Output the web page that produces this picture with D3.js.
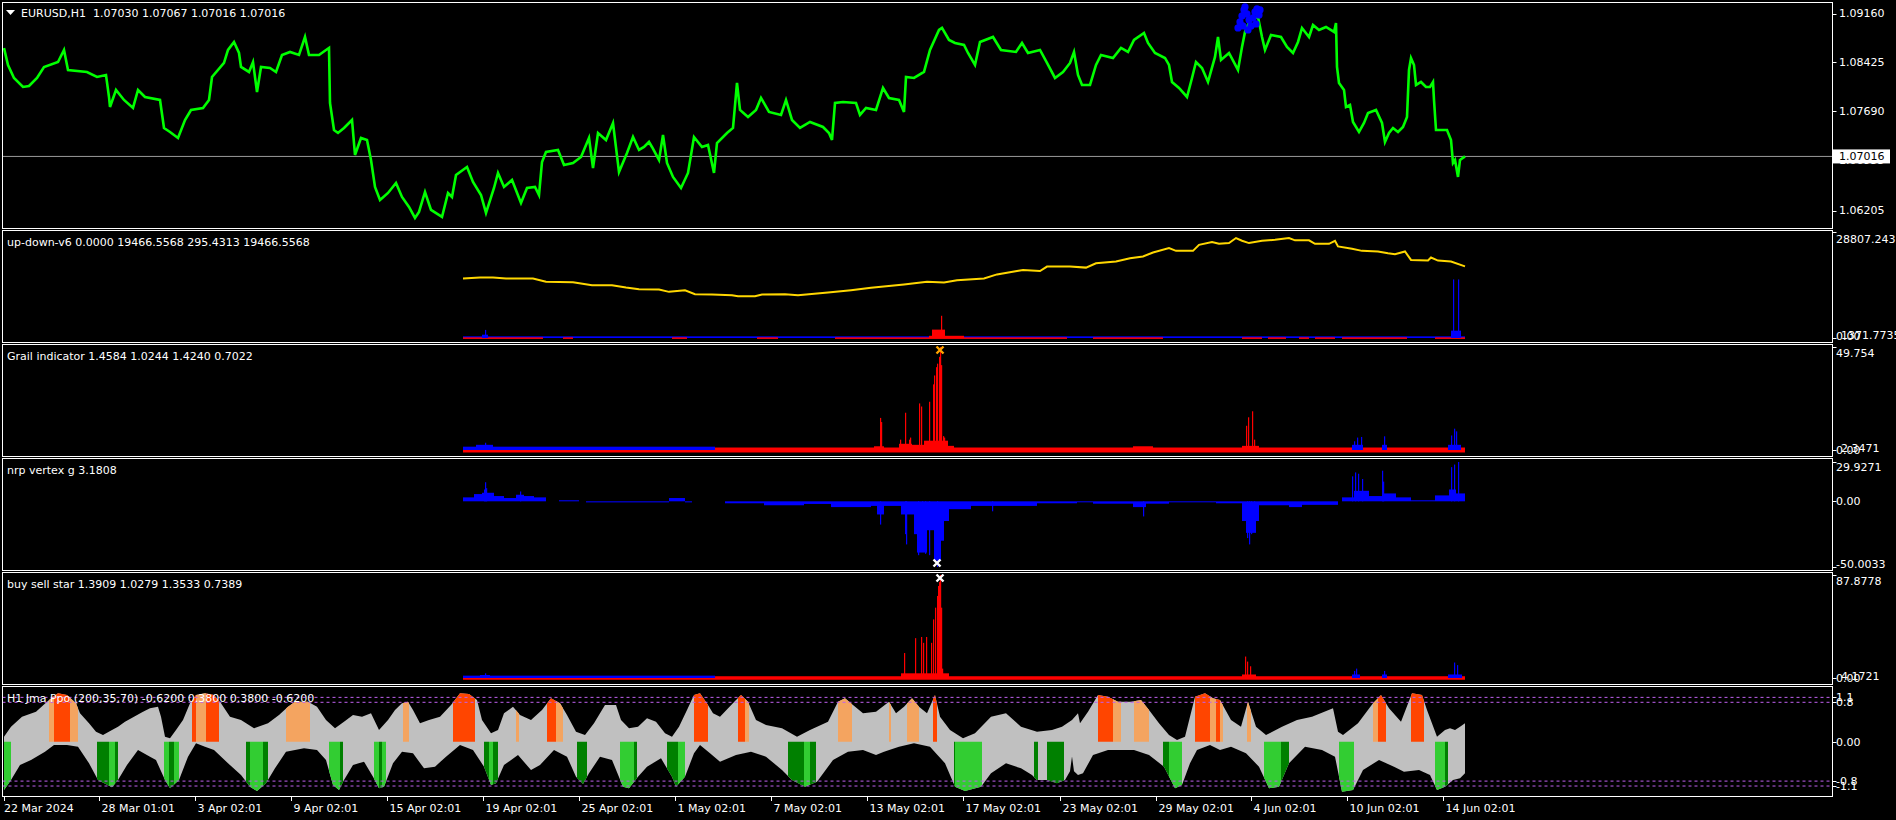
<!DOCTYPE html>
<html><head><meta charset="utf-8">
<script src="https://cdn.jsdelivr.net/npm/d3@7"></script>
<style>
body{margin:0;background:#000;overflow:hidden}
svg{display:block}
text{font-family:"DejaVu Sans",sans-serif;font-size:11px;fill:#fff;white-space:pre}
</style></head><body>
<svg id="c" width="1896" height="820"></svg>
<script>
// ---------------- DATA ----------------
const symbolTitle = "EURUSD,H1  1.07030 1.07067 1.07016 1.07016";
const priceTicks = [1.09160, 1.08425, 1.07690, 1.06955, 1.06205];
const lastPrice = 1.07016;
const timeTickBars = [0,95,191,287,383,479,575,671,767,863,959,1056,1152,1247,1343,1439];
const timeTickLabels = ["22 Mar 2024","28 Mar 01:01","3 Apr 02:01","9 Apr 02:01","15 Apr 02:01","19 Apr 02:01","25 Apr 02:01","1 May 02:01","7 May 02:01","13 May 02:01","17 May 02:01","23 May 02:01","29 May 02:01","4 Jun 02:01","10 Jun 02:01","14 Jun 02:01"];

// close prices [bar, price]
const priceClose = [[0,1.08643],[4,1.08388],[10,1.08193],[19,1.08058],[25,1.08073],[33,1.08193],[40,1.08358],[54,1.08433],[60,1.08613],[64,1.08313],[83,1.08283],[93,1.08208],[102,1.08238],[105,1.07908],[106,1.07758],[112,1.08013],[120,1.07863],[129,1.07743],[134,1.08013],[141,1.07908],[156,1.07863],[160,1.07443],[166,1.07383],[174,1.07293],[181,1.07563],[187,1.07713],[199,1.07743],[205,1.07863],[208,1.08208],[220,1.08418],[224,1.08613],[230,1.08733],[235,1.08568],[237,1.08358],[245,1.08283],[249,1.08433],[253,1.07983],[257,1.08358],[266,1.08343],[272,1.08283],[278,1.08538],[286,1.08583],[295,1.08538],[301,1.08808],[305,1.08538],[315,1.08538],[322,1.08613],[325,1.08643],[326,1.07818],[330,1.07413],[334,1.07368],[340,1.07443],[348,1.07563],[351,1.07038],[357,1.07293],[363,1.07263],[367,1.06963],[371,1.06558],[376,1.06363],[384,1.06468],[392,1.06618],[398,1.06408],[405,1.06258],[411,1.06093],[415,1.06183],[421,1.06483],[427,1.06213],[438,1.06108],[444,1.06468],[448,1.06408],[452,1.06738],[463,1.06858],[469,1.06633],[477,1.06438],[482,1.06168],[490,1.06543],[494,1.06768],[500,1.06558],[508,1.06663],[517,1.06318],[523,1.06543],[531,1.06558],[535,1.06438],[538,1.06933],[542,1.07083],[554,1.07113],[560,1.06888],[569,1.06918],[577,1.07008],[585,1.07293],[589,1.06843],[594,1.07368],[602,1.07263],[609,1.07518],[615,1.06783],[623,1.07068],[629,1.07308],[635,1.07113],[640,1.07158],[645,1.07233],[648,1.07158],[655,1.06963],[659,1.07338],[663,1.06918],[669,1.06708],[677,1.06543],[684,1.06768],[690,1.07308],[698,1.07158],[704,1.07188],[710,1.06768],[713,1.07218],[723,1.07368],[729,1.07443],[733,1.08118],[736,1.07713],[744,1.07608],[752,1.07713],[757,1.07893],[765,1.07683],[777,1.07638],[782,1.07863],[788,1.07563],[796,1.07443],[806,1.07533],[819,1.07458],[825,1.07368],[828,1.07263],[831,1.07818],[839,1.07833],[852,1.07818],[856,1.07638],[862,1.07743],[872,1.07713],[879,1.08043],[885,1.07893],[895,1.07863],[900,1.07683],[902,1.08208],[910,1.08193],[920,1.08283],[926,1.08613],[935,1.08913],[938,1.08943],[945,1.08763],[951,1.08718],[960,1.08688],[964,1.08568],[971,1.08388],[976,1.08733],[989,1.08808],[997,1.08613],[1012,1.08583],[1018,1.08718],[1024,1.08568],[1036,1.08613],[1043,1.08418],[1051,1.08193],[1059,1.08283],[1066,1.08418],[1070,1.08583],[1074,1.08238],[1078,1.08088],[1086,1.08088],[1092,1.08388],[1097,1.08538],[1109,1.08493],[1117,1.08643],[1124,1.08583],[1130,1.08763],[1140,1.08868],[1144,1.08718],[1151,1.08568],[1161,1.08493],[1165,1.08388],[1168,1.08133],[1175,1.08043],[1183,1.07908],[1188,1.08193],[1192,1.08433],[1198,1.08343],[1204,1.08133],[1211,1.08508],[1214,1.08808],[1217,1.08463],[1225,1.08568],[1234,1.08313],[1238,1.08658],[1241,1.08883],[1246,1.09063],[1254,1.09108],[1258,1.08808],[1261,1.08613],[1267,1.08838],[1277,1.08808],[1283,1.08658],[1289,1.08568],[1294,1.08733],[1298,1.08943],[1305,1.08808],[1309,1.08988],[1315,1.08913],[1322,1.08958],[1330,1.08883],[1332,1.09018],[1333,1.08358],[1335,1.08118],[1340,1.08013],[1342,1.07758],[1346,1.07788],[1349,1.07533],[1355,1.07383],[1360,1.07518],[1364,1.07668],[1372,1.07713],[1378,1.07518],[1381,1.07233],[1385,1.07368],[1389,1.07443],[1394,1.07383],[1399,1.07458],[1403,1.07608],[1405,1.08313],[1407,1.08493],[1410,1.08388],[1412,1.08088],[1417,1.08133],[1422,1.08058],[1426,1.08058],[1429,1.08133],[1430,1.07863],[1432,1.07413],[1437,1.07413],[1443,1.07413],[1447,1.07263],[1449,1.06918],[1451,1.06963],[1454,1.06708],[1456,1.06963],[1461,1.07016]];
// blue signal markers on price chart [bar, price]
const priceMarkers = [[1234,1.08943],[1236,1.09033],[1238,1.09123],[1240,1.09213],[1241,1.09258],[1243,1.09153],[1245,1.09063],[1247,1.08973],[1249,1.09093],[1251,1.09183],[1252,1.09003],[1253,1.09228],[1255,1.09138],[1256,1.09213],[1239,1.08973],[1244,1.08913]];

// up-down-v6
const udTitle = "up-down-v6 0.0000 19466.5568 295.4313 19466.5568";
const udMax = 28807.243;
const udAxis = [["28807.243",28807.243],["0.00",0]];
const udExtra = [["1371.7735",0]];
const udYellow = [[459,16190],[476,16464],[489,16464],[502,16190],[529,16190],[542,15284],[569,15174],[588,14351],[608,14351],[622,13720],[635,13254],[655,13171],[665,12540],[681,12979],[691,11882],[708,11799],[728,11607],[734,11333],[751,11333],[758,11799],[781,11882],[794,11607],[824,12348],[847,12979],[867,13638],[900,14543],[923,15284],[940,15092],[953,15723],[980,16190],[993,17287],[1013,18193],[1019,18467],[1036,18193],[1043,19400],[1066,19400],[1082,19126],[1092,20306],[1112,20772],[1126,21678],[1139,22144],[1149,23241],[1165,24422],[1172,23680],[1189,23680],[1195,25327],[1208,26068],[1215,25602],[1225,25794],[1232,27166],[1238,26425],[1245,25794],[1258,26425],[1271,26699],[1285,27166],[1291,26534],[1305,26534],[1311,25602],[1325,25602],[1331,26425],[1334,24888],[1348,24230],[1358,23680],[1374,23516],[1384,23050],[1391,22775],[1401,23516],[1407,21211],[1424,21046],[1427,21870],[1434,21046],[1447,20772],[1461,19466.5568]];
const udBlueBase = [[459,1461,0,450]];
const udRedBase = [[459,539],[559,569],[668,683],[753,774],[831,1063],[1089,1159],[1238,1258],[1264,1282],[1295,1305],[1311,1331],[1338,1403],[1431,1461]];
const udBlueBlocks = [[478,484,900],[1447,1457,2003]];
const udBlueSpikes = [[481,2195],[1449,15915],[1454,15915]];
const udRedBlocks = [[925,960,600],[928,941,2277]];
const udRedSpikes = [[937,6037]];

// Grail indicator
const grailTitle = "Grail indicator 1.4584 1.0244 1.4240 0.7022";
const grailMax = 49.754;
const grailAxis = [["49.754",49.754],["0.00",0]];
const grailExtra = [["2.3471",0]];
const grailRedBase = [[459,1461,-1.2,1.2]];
const grailBlueBase = [[459,711,0,1.6]];
const grailRedBlocks = [[870,880,1.8],[895,908,3],[908,920,2.5],[920,944,4.5],[944,950,2],[1129,1149,1.8],[1238,1255,2]];
const grailRedSpikes = [[876,15.5],[877,13.5],[896,5],[901,18],[905,5],[906,6],[915,22.5],[917,21],[925,23.3],[929,31.7],[930,36],[932,40],[933,41.7],[935,45],[936,49.754],[937,41],[939,6.7],[940,6],[1242,11.7],[1244,15.8],[1248,18.7],[1250,5]];
const grailBlueBlocks = [[472,489,2.5],[1348,1359,2.5],[1378,1383,2.5],[1444,1457,2.5]];
const grailBlueSpikes = [[481,3.5],[1350,4.2],[1353,6],[1357,6.3],[1380,6.6],[1447,7],[1450,10.3],[1452,9]];
const grailMark = [936,49.754];

// nrp vertex g
const nrpTitle = "nrp vertex g 3.1808";
const nrpMin = -50.0033, nrpMax = 29.9271;
const nrpAxis = [["29.9271",29.9271],["0.00",0],["-50.0033",-50.0033]];
const nrpBlocks = [[459,470,3.0],[470,478,5.5],[478,490,6.5],[490,500,4.0],[500,512,2.5],[512,520,5],[520,530,4.0],[530,542,3.0],[555,575,0.8],[582,665,-0.8],[665,681,2.5],[681,688,-0.8],[721,760,-1.5],[760,800,-3],[800,827,-2],[827,867,-4.4],[867,873,-3.5],[873,880,-10],[880,897,-3.5],[897,910,-10],[910,913,-25],[913,923,-39],[923,930,-22],[930,937,-45],[937,940,-30],[940,945,-15],[945,967,-6],[967,1033,-3.5],[1033,1073,-1.5],[1073,1089,-0.5],[1089,1129,-1.8],[1129,1142,-4.4],[1142,1165,-1.8],[1165,1212,-0.5],[1212,1238,-1.5],[1238,1242,-15],[1242,1252,-24],[1252,1255,-15],[1255,1285,-3],[1285,1298,-4.4],[1298,1334,-2.7],[1338,1350,3],[1350,1365,8],[1365,1380,4],[1380,1392,6],[1392,1407,3],[1407,1431,0.8],[1431,1445,4.5],[1445,1452,9],[1452,1461,6]];
const nrpSpikes = [[480,9],[481,14.5],[482,10],[516,7.5],[876,-17.7],[901,-25],[902,-32.8],[914,-41],[918,-37],[921,-40],[925,-41],[933,-50.0033],[988,-7.6],[1139,-11.5],[1243,-28],[1245,-32.8],[1247,-25],[1250,-20],[1348,19],[1351,22],[1354,21],[1358,17],[1378,23.3],[1379,15],[1447,26],[1450,28],[1454,29.9271]];
const nrpMark = [933,-50.0033];

// buy sell star
const starTitle = "buy sell star 1.3909 1.0279 1.3533 0.7389";
const starMax = 87.8778;
const starAxis = [["87.8778",87.8778],["0.00",0]];
const starExtra = [["4.1721",0]];
const starRedBase = [[459,1461,-1.5,1.5]];
const starBlueBase = [[459,711,0,2]];
const starRedBlocks = [[897,945,4],[1238,1252,3]];
const starRedSpikes = [[900,21.3],[911,34],[917,35],[919,30],[922,35],[927,30],[929,50],[931,60],[933,70],[934,78.5],[935,82],[936,87.8778],[937,60],[938,8],[1241,18.3],[1243,14],[1246,10]];
const starBlueBlocks = [[476,486,2.5],[1348,1356,3],[1378,1383,3],[1444,1458,3]];
const starBlueSpikes = [[481,4],[1350,6],[1352,8],[1380,6],[1450,13.2],[1453,11]];
const starMark = [936,87.8778];

// H1 Jma Ppo
const jmaTitle = "H1 Jma Ppo (200,35,70) -0.6200 0.3800 0.3800 -0.6200";
const jmaLevels = [0.9, 0.8, -0.8, -0.9];
const jmaAxis = [["1.1",0.9],["0.8",0.8],["0.00",0],["-0.8",-0.8],["-1.1",-0.9]];
const jmaUpper = [[0,0.102],[7,0.305],[18,0.508],[32,0.610],[45,0.847],[54,0.982],[63,0.948],[72,0.779],[76,0.576],[85,0.373],[92,0.204],[99,0.136],[108,0.238],[114,0.305],[121,0.407],[130,0.508],[139,0.610],[146,0.678],[154,0.711],[157,0.508],[161,0.102],[166,0.068],[172,0.238],[179,0.441],[186,0.779],[192,0.948],[201,0.982],[210,0.948],[217,0.779],[226,0.508],[237,0.441],[250,0.271],[264,0.373],[275,0.542],[284,0.711],[291,0.813],[304,0.813],[313,0.711],[322,0.441],[331,0.271],[340,0.407],[349,0.542],[358,0.508],[367,0.576],[375,0.238],[384,0.441],[391,0.644],[398,0.779],[404,0.813],[409,0.644],[416,0.373],[425,0.441],[436,0.508],[447,0.745],[456,0.982],[465,0.968],[473,0.847],[478,0.441],[487,0.170],[494,0.238],[500,0.576],[509,0.711],[516,0.542],[527,0.441],[538,0.644],[547,0.881],[556,0.779],[563,0.542],[572,0.204],[581,0.136],[590,0.373],[601,0.745],[612,0.745],[617,0.441],[625,0.271],[634,0.305],[643,0.474],[652,0.407],[661,0.170],[668,0.102],[675,0.305],[683,0.644],[690,0.948],[696,0.982],[704,0.745],[709,0.576],[716,0.508],[732,0.847],[737,0.948],[744,0.813],[752,0.441],[762,0.339],[778,0.271],[793,0.102],[806,0.238],[824,0.407],[834,0.813],[841,0.881],[849,0.745],[859,0.576],[872,0.610],[885,0.813],[892,0.576],[900,0.711],[908,0.881],[915,0.711],[923,0.576],[931,0.948],[936,0.508],[946,0.238],[959,0.068],[971,0.170],[987,0.508],[1002,0.576],[1017,0.305],[1033,0.204],[1048,0.238],[1058,0.305],[1068,0.441],[1074,0.576],[1076,0.373],[1084,0.610],[1094,0.948],[1104,0.914],[1114,0.813],[1127,0.813],[1137,0.847],[1145,0.644],[1155,0.373],[1165,0.136],[1173,0.035],[1181,0.102],[1191,0.914],[1201,0.982],[1209,0.881],[1216,0.847],[1227,0.441],[1237,0.305],[1244,0.813],[1252,0.305],[1262,0.136],[1278,0.305],[1293,0.441],[1308,0.508],[1329,0.678],[1334,0.204],[1339,0.136],[1354,0.373],[1369,0.779],[1377,0.948],[1385,0.678],[1397,0.407],[1408,0.982],[1418,0.948],[1423,0.644],[1433,0.102],[1441,0.238],[1446,0.271],[1451,0.238],[1456,0.305],[1461,0.373]];
const jmaLower = [[0,-0.981],[7,-0.778],[16,-0.473],[27,-0.372],[41,-0.202],[50,-0.067],[63,-0.067],[74,-0.101],[85,-0.439],[94,-0.778],[108,-0.927],[114,-0.778],[123,-0.473],[134,-0.169],[146,-0.304],[152,-0.372],[161,-0.778],[166,-0.947],[175,-0.778],[184,-0.304],[192,-0.033],[201,-0.101],[210,-0.169],[224,-0.439],[237,-0.676],[246,-0.913],[253,-1.001],[262,-0.845],[271,-0.541],[282,-0.202],[300,-0.135],[313,-0.169],[322,-0.372],[329,-0.879],[335,-0.981],[340,-0.778],[349,-0.473],[360,-0.405],[369,-0.710],[375,-0.947],[380,-0.913],[389,-0.439],[398,-0.202],[409,-0.236],[420,-0.541],[431,-0.507],[442,-0.304],[456,-0.067],[469,-0.169],[480,-0.507],[487,-0.879],[492,-0.845],[500,-0.473],[514,-0.270],[527,-0.575],[536,-0.473],[550,-0.169],[563,-0.304],[572,-0.710],[579,-0.859],[585,-0.642],[596,-0.304],[608,-0.372],[619,-0.913],[625,-0.947],[634,-0.710],[643,-0.507],[657,-0.338],[668,-0.710],[672,-0.913],[681,-0.710],[690,-0.236],[696,-0.067],[706,-0.236],[716,-0.405],[732,-0.270],[747,-0.202],[762,-0.304],[778,-0.575],[788,-0.778],[801,-0.913],[813,-0.812],[829,-0.372],[844,-0.202],[859,-0.169],[872,-0.270],[880,-0.202],[895,-0.101],[910,-0.033],[926,-0.101],[941,-0.439],[951,-0.913],[961,-1.001],[977,-0.913],[987,-0.642],[1002,-0.439],[1017,-0.541],[1028,-0.676],[1033,-0.778],[1043,-0.778],[1053,-0.845],[1061,-0.778],[1066,-0.6],[1068,-0.3],[1070,-0.6],[1074,-0.676],[1079,-0.642],[1089,-0.270],[1104,-0.169],[1130,-0.169],[1145,-0.270],[1160,-0.507],[1171,-0.947],[1178,-0.879],[1186,-0.439],[1193,-0.169],[1206,-0.067],[1216,-0.169],[1227,-0.101],[1242,-0.236],[1255,-0.507],[1265,-0.947],[1275,-0.913],[1285,-0.439],[1301,-0.101],[1318,-0.169],[1331,-0.304],[1338,-1.015],[1349,-0.981],[1359,-0.575],[1375,-0.372],[1390,-0.507],[1400,-0.608],[1415,-0.575],[1426,-0.676],[1433,-0.981],[1441,-0.913],[1449,-0.778],[1456,-0.744],[1461,-0.642]];
// sell / buy colour segments [startBar, endBar]
const jmaSellStrong = [[50,66],[188,192],[202,215],[449,471],[543,552],[690,704],[734,741],[929,933],[1094,1109],[1191,1206],[1212,1216],[1374,1382],[1407,1420]];
const jmaSellWeak = [[45,50],[66,74],[192,202],[282,306],[399,405],[512,515],[552,559],[741,745],[834,848],[885,887],[903,915],[1109,1117],[1130,1145],[1206,1212],[1216,1219],[1243,1247],[1369,1374]];
const jmaBuyStrong = [[93,105],[111,114],[165,170],[242,246],[259,264],[336,339],[375,378],[480,485],[489,494],[573,583],[630,633],[663,674],[784,800],[806,812],[950,951],[1030,1034],[1043,1060],[1159,1165],[1277,1285],[1441,1444]];
const jmaBuyWeak = [[0,7],[105,111],[160,165],[170,175],[246,259],[325,336],[370,375],[378,382],[485,489],[616,630],[674,681],[800,806],[951,978],[1165,1178],[1260,1277],[1335,1350],[1431,1441]];

// ---------------- DRAW ----------------
const svg = d3.select("#c");
svg.append("rect").attr("width",1896).attr("height",820).attr("fill","#000");
const L = 2.5, R = 1832.5;
const panels = {main:[2,228], ud:[230,342], grail:[344,456], nrp:[458,570], star:[572,684], jma:[686,796]};
const x = d3.scaleLinear().domain([0,1461]).range([4,1465]);

const yP = d3.scaleLinear().domain([1.06205,1.09160]).range([210.5,13.5]);
const yU = d3.scaleLinear().domain([0,udMax]).range([338,232]);
const yG = d3.scaleLinear().domain([0,grailMax]).range([450,347]);
const yN = d3.scaleLinear().domain([nrpMin,nrpMax]).range([567,462]);
const yS = d3.scaleLinear().domain([0,starMax]).range([678,575]);
const yJ = d3.scaleLinear().domain([0,0.8]).range([741.7,702.3]);

const defs = svg.append("defs");
Object.entries(panels).forEach(([k,[t,b]])=>{
  defs.append("clipPath").attr("id","clip-"+k).append("rect")
    .attr("x",L+0.5).attr("y",t+1).attr("width",R-L-1).attr("height",b-t-1);
});
function layer(k){ return svg.append("g").attr("clip-path",`url(#clip-${k})`); }

function spikes(g, arr, y, color){
  g.append("g").selectAll("rect").data(arr).join("rect")
   .attr("x",d=>x(d[0])).attr("width",1.2)
   .attr("y",d=>Math.min(y(0),y(d[1]))).attr("height",d=>Math.max(1,Math.abs(y(d[1])-y(0))))
   .attr("fill",color);
}
function blocks(g, arr, y, color){
  g.append("g").selectAll("rect").data(arr).join("rect")
   .attr("x",d=>x(d[0])).attr("width",d=>Math.max(1,x(d[1])-x(d[0])))
   .attr("y",d=>Math.min(y(0),y(d[2]))).attr("height",d=>Math.max(1,Math.abs(y(d[2])-y(0))))
   .attr("fill",color);
}
function bands(g, arr, y, color){
  g.append("g").selectAll("rect").data(arr).join("rect")
   .attr("x",d=>x(d[0])).attr("width",d=>Math.max(1,x(d[1])-x(d[0])))
   .attr("y",d=>y(d[3])).attr("height",d=>Math.max(1,y(d[2])-y(d[3])))
   .attr("fill",color);
}
function cross(g, px, py, color){
  g.append("path").attr("d",`M${px-3.5},${py-3.5}L${px+3.5},${py+3.5}M${px+3.5},${py-3.5}L${px-3.5},${py+3.5}`)
   .attr("stroke",color).attr("stroke-width",2.4).attr("fill","none");
}

// ---- main price panel
const gm = layer("main");
gm.append("line").attr("x1",L).attr("x2",R).attr("y1",yP(lastPrice)).attr("y2",yP(lastPrice))
  .attr("stroke","#9a9a9a").attr("stroke-width",1);
gm.append("path").datum(priceClose)
  .attr("d",d3.line().x(d=>x(d[0])).y(d=>yP(d[1])))
  .attr("fill","none").attr("stroke","#00ff00").attr("stroke-width",2.6).attr("stroke-linejoin","miter");
gm.append("g").selectAll("circle").data(priceMarkers).join("circle")
  .attr("cx",d=>x(d[0])).attr("cy",d=>yP(d[1])).attr("r",3.6).attr("fill","#0000ff");

// ---- up-down
const gu = layer("ud");
bands(gu, udBlueBase, yU, "#0000ff");
bands(gu, udRedBase.map(d=>[d[0],d[1],-250,180]), yU, "#ff0000");
blocks(gu, udRedBlocks, yU, "#ff0000");
spikes(gu, udRedSpikes, yU, "#ff0000");
blocks(gu, udBlueBlocks, yU, "#0000ff");
spikes(gu, udBlueSpikes, yU, "#0000ff");
gu.append("path").datum(udYellow)
  .attr("d",d3.line().x(d=>x(d[0])).y(d=>yU(d[1])))
  .attr("fill","none").attr("stroke","#ffd700").attr("stroke-width",2);

// ---- grail
const gg = layer("grail");
bands(gg, grailRedBase, yG, "#ff0000");
bands(gg, grailBlueBase, yG, "#0000ff");
blocks(gg, grailRedBlocks, yG, "#ff0000");
spikes(gg, grailRedSpikes, yG, "#ff0000");
blocks(gg, grailBlueBlocks, yG, "#0000ff");
spikes(gg, grailBlueSpikes, yG, "#0000ff");
cross(svg, x(grailMark[0]), yG(grailMark[1])+3, "#ffa500");

// ---- nrp
const gn = layer("nrp");
blocks(gn, nrpBlocks, yN, "#0000ff");
spikes(gn, nrpSpikes, yN, "#0000ff");
cross(svg, x(nrpMark[0]), yN(nrpMark[1])-4, "#ffffff");

// ---- star
const gs = layer("star");
bands(gs, starRedBase, yS, "#ff0000");
bands(gs, starBlueBase, yS, "#0000ff");
blocks(gs, starRedBlocks, yS, "#ff0000");
spikes(gs, starRedSpikes, yS, "#ff0000");
blocks(gs, starBlueBlocks, yS, "#0000ff");
spikes(gs, starBlueSpikes, yS, "#0000ff");
cross(svg, x(starMark[0]), yS(starMark[1])+3, "#ffffff");

// ---- jma
const gj = layer("jma");
const envelope = jmaUpper.concat(jmaLower.slice().reverse());
const envLine = d3.line().x(d=>x(d[0])).y(d=>yJ(d[1]));
gj.append("path").datum(envelope)
  .attr("d",d=>envLine(d)+"Z")
  .attr("fill","#c0c0c0");
function segFill(segs, data, color, id){
  const cp = defs.append("clipPath").attr("id",id);
  cp.selectAll("rect").data(segs).join("rect")
    .attr("x",d=>x(d[0])).attr("width",d=>Math.max(1,x(d[1])-x(d[0])))
    .attr("y",686).attr("height",110);
  gj.append("path").datum(data).attr("clip-path",`url(#${id})`)
    .attr("d",d3.area().x(d=>x(d[0])).y0(yJ(0)).y1(d=>yJ(d[1])))
    .attr("fill",color);
}
segFill(jmaSellStrong, jmaUpper, "#ff4500", "cp-ss");
segFill(jmaSellWeak, jmaUpper, "#f4a460", "cp-sw");
segFill(jmaBuyStrong, jmaLower, "#008000", "cp-bs");
segFill(jmaBuyWeak, jmaLower, "#32cd32", "cp-bw");
gj.append("g").selectAll("line").data(jmaLevels).join("line")
  .attr("x1",L).attr("x2",R).attr("y1",d=>yJ(d)).attr("y2",d=>yJ(d))
  .attr("stroke","#c060f0").attr("stroke-width",1).attr("stroke-dasharray","3,3");

// ---- panel borders
Object.values(panels).forEach(([t,b])=>{
  svg.append("rect").attr("x",L).attr("y",t+0.5).attr("width",R-L).attr("height",b-t)
    .attr("fill","none").attr("stroke","#fff").attr("stroke-width",1);
});

// ---- titles
svg.append("path").attr("d","M6,10L15,10L10.5,15Z").attr("fill","#fff");
svg.append("text").attr("x",21).attr("y",13).attr("dy","0.35em").text(symbolTitle);
[[udTitle,"ud"],[grailTitle,"grail"],[nrpTitle,"nrp"],[starTitle,"star"],[jmaTitle,"jma"]].forEach(([t,k])=>{
  svg.append("text").attr("x",7).attr("y",panels[k][0]+12).attr("dy","0.35em").text(t);
});

// ---- right axes
const ax = svg.append("g");
function axisLabels(list, y, k, dx=0, dyOff=0){
  const [t,b] = panels[k];
  list.forEach(([txt,v])=>{
    const yy = Math.min(Math.max(y(v), t+9), b-6) + dyOff;
    if(!dx) ax.append("line").attr("x1",R).attr("x2",R+4).attr("y1",Math.round(y(v))+0.5).attr("y2",Math.round(y(v))+0.5).attr("stroke","#fff");
    ax.append("text").attr("x",1836+dx).attr("y",yy).attr("dy","0.35em").text(txt);
  });
}
priceTicks.forEach(v=>{
  ax.append("line").attr("x1",R).attr("x2",R+4).attr("y1",Math.round(yP(v))+0.5).attr("y2",Math.round(yP(v))+0.5).attr("stroke","#fff");
  ax.append("text").attr("x",1839).attr("y",yP(v)).attr("dy","0.35em").text(d3.format(".5f")(v));
});
const ly = yP(lastPrice);
ax.append("rect").attr("x",1833).attr("y",ly-7).attr("width",57).attr("height",14).attr("fill","#fff");
ax.append("text").attr("x",1839).attr("y",ly).attr("dy","0.35em").style("fill","#000").text(d3.format(".5f")(lastPrice));

axisLabels(udAxis, yU, "ud");
axisLabels(udExtra, yU, "ud", 5, -1);
axisLabels(grailAxis, yG, "grail");
axisLabels(grailExtra, yG, "grail", 5, -2);
axisLabels(nrpAxis, yN, "nrp");
axisLabels(starAxis, yS, "star");
axisLabels(starExtra, yS, "star", 5, -2);
jmaAxis.forEach(([txt,v])=>{
  ax.append("line").attr("x1",R).attr("x2",R+4).attr("y1",Math.round(yJ(v))+0.5).attr("y2",Math.round(yJ(v))+0.5).attr("stroke","#fff");
  ax.append("text").attr("x",1836).attr("y",yJ(v)).attr("dy","0.35em").text(txt);
});

// ---- time axis
const tg = svg.append("g");
timeTickBars.forEach((b,i)=>{
  const px = Math.round(x(b))+0.5;
  tg.append("line").attr("x1",px).attr("x2",px).attr("y1",796).attr("y2",801).attr("stroke","#fff");
  tg.append("text").attr("x",i===0?4:px+2).attr("y",808).attr("dy","0.35em").text(timeTickLabels[i]);
});
</script></body></html>
